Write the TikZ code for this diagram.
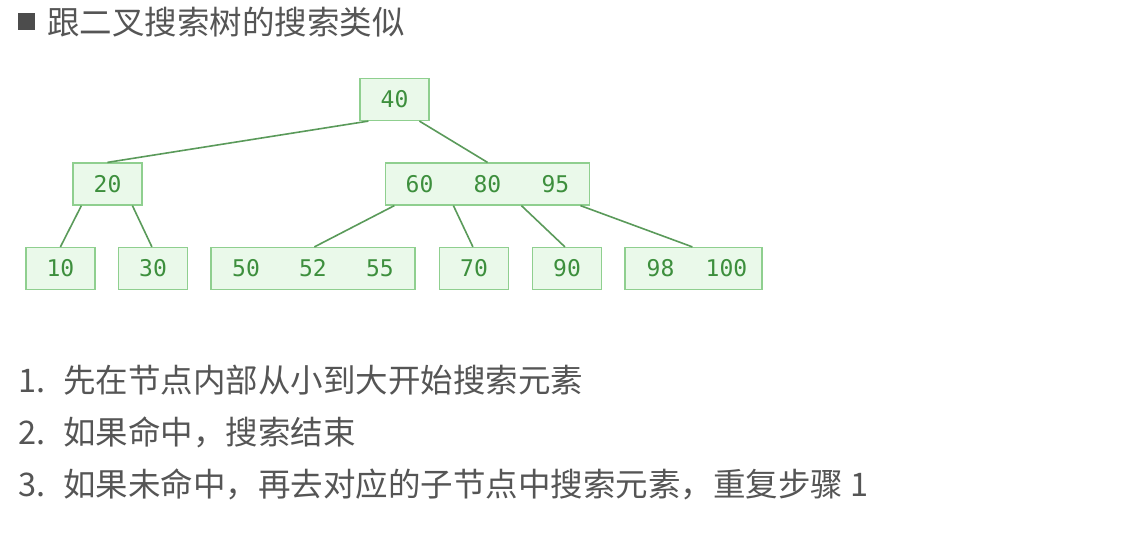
\documentclass[tikz,border=0pt]{standalone}
\usepackage{fontspec}
\newfontfamily\cjk{Noto Sans CJK SC}
\newfontfamily\monof{DejaVu Sans Mono}
\definecolor{boxfill}{HTML}{EAF9EA}
\definecolor{boxdraw}{HTML}{8FCF8F}
\definecolor{keytext}{HTML}{3D8F3D}
\definecolor{edgecol}{HTML}{5A9A5A}
\definecolor{txt}{HTML}{555555}
\begin{document}
\begin{tikzpicture}[x=1pt,y=-1pt,
  keybox/.style={draw=boxdraw, fill=boxfill, line width=1.2pt, inner sep=0pt,
    minimum height=42pt, text=keytext, font=\monof\fontsize{23}{23}\selectfont},
  link/.style={draw=edgecol, line width=1.6pt},
  txtnode/.style={anchor=west, inner sep=0pt, text=txt, font=\cjk\fontsize{32.5}{32.5}\selectfont}]
\useasboundingbox[fill=white] (0,0) rectangle (1131,559);

% title
\node[fill=txt!90!black, minimum size=17pt, inner sep=0pt] (bullet) at (26.5,22) {};
\node[txtnode] (title) at (47,22) {跟二叉搜索树的搜索类似};

% tree
\node[keybox, minimum width=69pt] (n40) at (394.5,99.5) {40};
\node[keybox, minimum width=69pt] (n20) at (107.5,184) {20};
\node[keybox, minimum width=204pt] (nR) at (487.5,184) {\makebox[68pt]{60}\makebox[68pt]{80}\makebox[68pt]{95}};
\node[keybox, minimum width=69pt] (n10) at (60.5,268.5) {10};
\node[keybox, minimum width=69pt] (n30) at (153,268.5) {30};
\node[keybox, minimum width=204pt] (nL) at (313,268.5) {\makebox[67pt]{50}\makebox[67pt]{52}\makebox[67pt]{55}};
\node[keybox, minimum width=69pt] (n70) at (474,268.5) {70};
\node[keybox, minimum width=69pt] (n90) at (567,268.5) {90};
\node[keybox, minimum width=137pt] (n98) at (693.5,268.5) {\makebox[66pt]{98}\makebox[66pt]{100}};

\draw[link] ([xshift=9pt]n40.south west) -- ([xshift=35pt]n20.north west);
\draw[link] ([xshift=60pt]n40.south west) -- (nR.north);
\draw[link] ([xshift=9pt]n20.south west) -- ([xshift=35pt]n10.north west);
\draw[link] ([xshift=60pt]n20.south west) -- ([xshift=34pt]n30.north west);
\draw[link] ([xshift=9.5pt]nR.south west) -- ([xshift=104pt]nL.north west);
\draw[link] ([xshift=68.5pt]nR.south west) -- ([xshift=34pt]n70.north west);
\draw[link] ([xshift=136.5pt]nR.south west) -- ([xshift=33pt]n90.north west);
\draw[link] ([xshift=195.5pt]nR.south west) -- ([xshift=68pt]n98.north west);

% steps
\node[txtnode] (s1) at (18,380) {\makebox[45pt][l]{1.}先在节点内部从小到大开始搜索元素};
\node[txtnode] (s2) at (18,432) {\makebox[45pt][l]{2.}如果命中，搜索结束};
\node[txtnode] (s3) at (18,484) {\makebox[45pt][l]{3.}如果未命中，再去对应的子节点中搜索元素，重复步骤 1};
\end{tikzpicture}
\end{document}
